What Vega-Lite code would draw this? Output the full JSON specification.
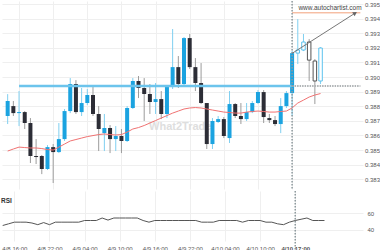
{
  "$schema": "https://vega.github.io/schema/vega-lite/v6.json",
  "padding": 0,
  "background": "white",
  "spacing": 0,
  "config": {
    "view": {"stroke": null},
    "font": "Liberation Sans",
    "axis": {"labelFont": "Liberation Sans", "labelColor": "#555555", "gridColor": "#efefef", "domain": false, "ticks": false, "labelOverlap": false, "labelSeparation": 0}
  },
  "datasets": {
    "c": [
      {"t": "2024-04-08T14:00:00Z", "o": 0.38733, "h": 0.38883, "l": 0.38678, "c": 0.38836, "ma": 0.38493, "rsi": 45},
      {"t": "2024-04-08T15:00:00Z", "o": 0.38801, "h": 0.38836, "l": 0.38733, "c": 0.38753, "ma": 0.38507, "rsi": 47},
      {"t": "2024-04-08T16:00:00Z", "o": 0.38753, "h": 0.38904, "l": 0.38664, "c": 0.3876, "ma": 0.3852, "rsi": 49},
      {"t": "2024-04-08T17:00:00Z", "o": 0.3876, "h": 0.38767, "l": 0.38644, "c": 0.38685, "ma": 0.38517, "rsi": 49},
      {"t": "2024-04-08T18:00:00Z", "o": 0.38685, "h": 0.38719, "l": 0.38411, "c": 0.38459, "ma": 0.38514, "rsi": 49},
      {"t": "2024-04-08T19:00:00Z", "o": 0.38459, "h": 0.38575, "l": 0.38404, "c": 0.38452, "ma": 0.38514, "rsi": 48},
      {"t": "2024-04-08T20:00:00Z", "o": 0.38459, "h": 0.38466, "l": 0.38335, "c": 0.3837, "ma": 0.3851, "rsi": 46},
      {"t": "2024-04-08T21:00:00Z", "o": 0.3837, "h": 0.38534, "l": 0.38363, "c": 0.3852, "ma": 0.38503, "rsi": 48.5},
      {"t": "2024-04-08T22:00:00Z", "o": 0.3852, "h": 0.38541, "l": 0.38274, "c": 0.38486, "ma": 0.385, "rsi": 46},
      {"t": "2024-04-08T23:00:00Z", "o": 0.38486, "h": 0.38685, "l": 0.38479, "c": 0.38575, "ma": 0.3852, "rsi": 49},
      {"t": "2024-04-09T00:00:00Z", "o": 0.38575, "h": 0.38781, "l": 0.38562, "c": 0.38767, "ma": 0.38541, "rsi": 49},
      {"t": "2024-04-09T01:00:00Z", "o": 0.38767, "h": 0.38993, "l": 0.38753, "c": 0.38952, "ma": 0.38562, "rsi": 49},
      {"t": "2024-04-09T02:00:00Z", "o": 0.38952, "h": 0.38979, "l": 0.38747, "c": 0.3876, "ma": 0.38572, "rsi": 49},
      {"t": "2024-04-09T03:00:00Z", "o": 0.3876, "h": 0.38925, "l": 0.38733, "c": 0.38822, "ma": 0.38582, "rsi": 49},
      {"t": "2024-04-09T04:00:00Z", "o": 0.38822, "h": 0.38918, "l": 0.38808, "c": 0.38877, "ma": 0.38592, "rsi": 51},
      {"t": "2024-04-09T05:00:00Z", "o": 0.38877, "h": 0.38938, "l": 0.38733, "c": 0.38747, "ma": 0.38599, "rsi": 51},
      {"t": "2024-04-09T06:00:00Z", "o": 0.38747, "h": 0.38801, "l": 0.38493, "c": 0.38644, "ma": 0.38606, "rsi": 51},
      {"t": "2024-04-09T07:00:00Z", "o": 0.38616, "h": 0.38747, "l": 0.38493, "c": 0.38651, "ma": 0.3861, "rsi": 54},
      {"t": "2024-04-09T08:00:00Z", "o": 0.38651, "h": 0.38671, "l": 0.38479, "c": 0.38575, "ma": 0.38606, "rsi": 51.5},
      {"t": "2024-04-09T09:00:00Z", "o": 0.38575, "h": 0.38664, "l": 0.38493, "c": 0.38596, "ma": 0.38603, "rsi": 54},
      {"t": "2024-04-09T10:00:00Z", "o": 0.38596, "h": 0.38644, "l": 0.38479, "c": 0.38562, "ma": 0.38606, "rsi": 54},
      {"t": "2024-04-09T11:00:00Z", "o": 0.38562, "h": 0.38801, "l": 0.38555, "c": 0.38788, "ma": 0.38623, "rsi": 54},
      {"t": "2024-04-09T12:00:00Z", "o": 0.38788, "h": 0.38993, "l": 0.38781, "c": 0.38973, "ma": 0.38644, "rsi": 54},
      {"t": "2024-04-09T13:00:00Z", "o": 0.38973, "h": 0.39007, "l": 0.38856, "c": 0.38925, "ma": 0.38654, "rsi": 54},
      {"t": "2024-04-09T14:00:00Z", "o": 0.38925, "h": 0.38993, "l": 0.38699, "c": 0.38884, "ma": 0.38668, "rsi": 51},
      {"t": "2024-04-09T15:00:00Z", "o": 0.38884, "h": 0.38952, "l": 0.38747, "c": 0.38829, "ma": 0.38685, "rsi": 49},
      {"t": "2024-04-09T16:00:00Z", "o": 0.38829, "h": 0.38959, "l": 0.38747, "c": 0.38849, "ma": 0.38702, "rsi": 51},
      {"t": "2024-04-09T17:00:00Z", "o": 0.38849, "h": 0.38904, "l": 0.38712, "c": 0.38747, "ma": 0.38719, "rsi": 51},
      {"t": "2024-04-09T18:00:00Z", "o": 0.38747, "h": 0.38938, "l": 0.38719, "c": 0.38932, "ma": 0.38736, "rsi": 51},
      {"t": "2024-04-09T19:00:00Z", "o": 0.38932, "h": 0.39329, "l": 0.38918, "c": 0.39068, "ma": 0.38753, "rsi": 51},
      {"t": "2024-04-09T20:00:00Z", "o": 0.39068, "h": 0.39144, "l": 0.38925, "c": 0.38952, "ma": 0.38767, "rsi": 51},
      {"t": "2024-04-09T21:00:00Z", "o": 0.38952, "h": 0.39274, "l": 0.38945, "c": 0.39267, "ma": 0.38781, "rsi": 51},
      {"t": "2024-04-09T22:00:00Z", "o": 0.39267, "h": 0.39295, "l": 0.39055, "c": 0.39068, "ma": 0.38788, "rsi": 51},
      {"t": "2024-04-09T23:00:00Z", "o": 0.39068, "h": 0.3913, "l": 0.38904, "c": 0.38959, "ma": 0.38791, "rsi": 51},
      {"t": "2024-04-10T00:00:00Z", "o": 0.38959, "h": 0.39096, "l": 0.38815, "c": 0.38822, "ma": 0.38788, "rsi": 49},
      {"t": "2024-04-10T01:00:00Z", "o": 0.38822, "h": 0.38822, "l": 0.38507, "c": 0.38541, "ma": 0.38781, "rsi": 49},
      {"t": "2024-04-10T02:00:00Z", "o": 0.38541, "h": 0.38719, "l": 0.38507, "c": 0.38699, "ma": 0.38774, "rsi": 49},
      {"t": "2024-04-10T03:00:00Z", "o": 0.38692, "h": 0.38733, "l": 0.38685, "c": 0.38712, "ma": 0.38767, "rsi": 51},
      {"t": "2024-04-10T04:00:00Z", "o": 0.38712, "h": 0.38726, "l": 0.38582, "c": 0.38596, "ma": 0.3876, "rsi": 51},
      {"t": "2024-04-10T05:00:00Z", "o": 0.38582, "h": 0.38904, "l": 0.38548, "c": 0.38815, "ma": 0.38757, "rsi": 51},
      {"t": "2024-04-10T06:00:00Z", "o": 0.38815, "h": 0.38822, "l": 0.38719, "c": 0.38733, "ma": 0.38753, "rsi": 51},
      {"t": "2024-04-10T07:00:00Z", "o": 0.38733, "h": 0.38822, "l": 0.38678, "c": 0.38712, "ma": 0.38753, "rsi": 49},
      {"t": "2024-04-10T08:00:00Z", "o": 0.38712, "h": 0.38822, "l": 0.38699, "c": 0.3876, "ma": 0.3876, "rsi": 51},
      {"t": "2024-04-10T09:00:00Z", "o": 0.3876, "h": 0.38836, "l": 0.38753, "c": 0.38822, "ma": 0.38764, "rsi": 51},
      {"t": "2024-04-10T10:00:00Z", "o": 0.38822, "h": 0.38911, "l": 0.38815, "c": 0.38897, "ma": 0.38767, "rsi": 51},
      {"t": "2024-04-10T11:00:00Z", "o": 0.38897, "h": 0.38911, "l": 0.38685, "c": 0.38726, "ma": 0.38764, "rsi": 49},
      {"t": "2024-04-10T12:00:00Z", "o": 0.38719, "h": 0.38747, "l": 0.38685, "c": 0.38705, "ma": 0.3876, "rsi": 49},
      {"t": "2024-04-10T13:00:00Z", "o": 0.38705, "h": 0.38733, "l": 0.38664, "c": 0.38678, "ma": 0.3876, "rsi": 47},
      {"t": "2024-04-10T14:00:00Z", "o": 0.38678, "h": 0.38856, "l": 0.38616, "c": 0.38801, "ma": 0.38764, "rsi": 46},
      {"t": "2024-04-10T15:00:00Z", "o": 0.38801, "h": 0.38904, "l": 0.38788, "c": 0.3889, "ma": 0.38767, "rsi": 49},
      {"t": "2024-04-10T16:00:00Z", "o": 0.3889, "h": 0.39178, "l": 0.38733, "c": 0.39164, "ma": 0.38788, "rsi": 51},
      {"t": "2024-04-10T17:00:00Z", "o": 0.39164, "h": 0.39397, "l": 0.39089, "c": 0.39185, "ma": 0.38822, "rsi": 52.5},
      {"t": "2024-04-10T18:00:00Z", "o": 0.39185, "h": 0.39295, "l": 0.39178, "c": 0.3924, "ma": 0.38842, "rsi": 54},
      {"t": "2024-04-10T19:00:00Z", "o": 0.3924, "h": 0.3926, "l": 0.38973, "c": 0.39116, "ma": 0.38863, "rsi": 51},
      {"t": "2024-04-10T20:00:00Z", "o": 0.3911, "h": 0.39123, "l": 0.38815, "c": 0.38973, "ma": 0.38877, "rsi": 51},
      {"t": "2024-04-10T21:00:00Z", "o": 0.38973, "h": 0.39205, "l": 0.38952, "c": 0.39199, "ma": 0.38887, "rsi": 51}
    ],
    "support": [{"t": "2024-04-08T16:00:00Z", "t2": "2024-04-10T16:00:00Z", "p": 0.38938}],
    "supportAfter": [{"t": "2024-04-10T16:00:00Z", "t2": "2024-04-11T04:00:00Z", "p": 0.38938}],
    "target": [{"t": "2024-04-10T16:00:00Z", "t2": "2024-04-11T04:00:00Z", "p": 0.3944}],
    "arrow": [{"t": "2024-04-10T16:00:00Z", "p": 0.39162, "t2": "2024-04-11T03:05:00Z", "p2": 0.39438}],
    "marker": [{"t": "2024-04-10T16:00:00Z"}],
    "site": [{"t": "2024-04-10T22:40:00Z", "p": 0.39473, "label": "www.autochartist.com"}],
    "wm": [{"t": "2024-04-09T20:20:00Z", "p": 0.38657, "label": "What2Trade"}],
    "rsiLabel": [{"t": "2024-04-08T13:53:00Z", "rsi": 74.5, "label": "RSI"}]
  },
  "vconcat": [
    {
      "width": 361,
      "height": 188,
      "layer": [
        {
          "data": {"name": "c", "format": {"parse": {"t": "date"}}},
          "mark": {"type": "rule", "strokeWidth": 1},
          "encoding": {
            "x": {"field": "t", "type": "temporal", "scale": {"type": "utc", "domain": [{"year": 2024, "month": 4, "date": 8, "hours": 13, "minutes": 53, "utc": true}, {"year": 2024, "month": 4, "date": 11, "hours": 3, "minutes": 35, "utc": true}]}, "axis": {"values": [{"year": 2024, "month": 4, "date": 8, "hours": 16, "utc": true}, {"year": 2024, "month": 4, "date": 8, "hours": 22, "utc": true}, {"year": 2024, "month": 4, "date": 9, "hours": 4, "utc": true}, {"year": 2024, "month": 4, "date": 9, "hours": 10, "utc": true}, {"year": 2024, "month": 4, "date": 9, "hours": 16, "utc": true}, {"year": 2024, "month": 4, "date": 9, "hours": 22, "utc": true}, {"year": 2024, "month": 4, "date": 10, "hours": 4, "utc": true}, {"year": 2024, "month": 4, "date": 10, "hours": 10, "utc": true}, {"year": 2024, "month": 4, "date": 10, "hours": 16, "utc": true}], "tickCount": 20, "labels": false, "ticks": false, "domain": false, "grid": true, "gridColor": "#efefef", "title": null, "minExtent": 0, "maxExtent": 0}},
            "y": {"field": "l", "type": "quantitative", "scale": {"domain": [0.38233, 0.39521], "zero": false, "nice": false}, "axis": {"orient": "right", "values": [0.383, 0.384, 0.385, 0.386, 0.387, 0.388, 0.389, 0.39, 0.391, 0.392, 0.393, 0.394, 0.395], "tickCount": 20, "format": ".3f", "grid": true, "gridColor": "#efefef", "domain": false, "ticks": false, "labelFontSize": 6, "labelPadding": 1.5, "labelOverlap": false, "labelSeparation": 0, "title": null}},
            "y2": {"field": "h"},
            "color": {"condition": {"test": "datum.c >= datum.o", "value": "#7fcff0"}, "value": "#9c9c9c"}
          }
        },
        {
          "data": {"name": "wm", "format": {"parse": {"t": "date"}}},
          "mark": {"type": "text", "fontSize": 11, "fontWeight": "bold", "color": "#dedede", "align": "center", "baseline": "middle"},
          "encoding": {
            "x": {"field": "t", "type": "temporal", "scale": {"type": "utc", "domain": [{"year": 2024, "month": 4, "date": 8, "hours": 13, "minutes": 53, "utc": true}, {"year": 2024, "month": 4, "date": 11, "hours": 3, "minutes": 35, "utc": true}]}},
            "y": {"field": "p", "type": "quantitative", "scale": {"domain": [0.38233, 0.39521], "zero": false, "nice": false}},
            "text": {"field": "label"}
          }
        },
        {
          "data": {"name": "c", "format": {"parse": {"t": "date"}}},
          "transform": [{"filter": "time(datum.t) <= utc(2024,3,10,16)"}],
          "mark": {"type": "bar", "size": 4},
          "encoding": {
            "x": {"field": "t", "type": "temporal", "scale": {"type": "utc", "domain": [{"year": 2024, "month": 4, "date": 8, "hours": 13, "minutes": 53, "utc": true}, {"year": 2024, "month": 4, "date": 11, "hours": 3, "minutes": 35, "utc": true}]}},
            "y": {"field": "o", "type": "quantitative", "scale": {"domain": [0.38233, 0.39521], "zero": false, "nice": false}},
            "y2": {"field": "c"},
            "color": {"condition": {"test": "datum.c >= datum.o", "value": "#1ba3e0"}, "value": "#2c2d36"}
          }
        },
        {
          "data": {"name": "c", "format": {"parse": {"t": "date"}}},
          "transform": [{"filter": "time(datum.t) > utc(2024,3,10,16)"}],
          "mark": {"type": "bar", "size": 3.5, "fill": "white", "strokeWidth": 1},
          "encoding": {
            "x": {"field": "t", "type": "temporal", "scale": {"type": "utc", "domain": [{"year": 2024, "month": 4, "date": 8, "hours": 13, "minutes": 53, "utc": true}, {"year": 2024, "month": 4, "date": 11, "hours": 3, "minutes": 35, "utc": true}]}},
            "y": {"field": "o", "type": "quantitative", "scale": {"domain": [0.38233, 0.39521], "zero": false, "nice": false}},
            "y2": {"field": "c"},
            "stroke": {"condition": {"test": "datum.c >= datum.o", "value": "#5cc2ee"}, "value": "#555555"}
          }
        },
        {
          "data": {"name": "c", "format": {"parse": {"t": "date"}}},
          "mark": {"type": "line", "color": "#f07272", "strokeWidth": 1},
          "encoding": {
            "x": {"field": "t", "type": "temporal", "scale": {"type": "utc", "domain": [{"year": 2024, "month": 4, "date": 8, "hours": 13, "minutes": 53, "utc": true}, {"year": 2024, "month": 4, "date": 11, "hours": 3, "minutes": 35, "utc": true}]}},
            "y": {"field": "ma", "type": "quantitative", "scale": {"domain": [0.38233, 0.39521], "zero": false, "nice": false}}
          }
        },
        {
          "data": {"name": "support", "format": {"parse": {"t": "date", "t2": "date"}}},
          "mark": {"type": "rule", "color": "#6cc4ec", "strokeWidth": 2.5},
          "encoding": {
            "x": {"field": "t", "type": "temporal", "scale": {"type": "utc", "domain": [{"year": 2024, "month": 4, "date": 8, "hours": 13, "minutes": 53, "utc": true}, {"year": 2024, "month": 4, "date": 11, "hours": 3, "minutes": 35, "utc": true}]}},
            "x2": {"field": "t2"},
            "y": {"field": "p", "type": "quantitative", "scale": {"domain": [0.38233, 0.39521], "zero": false, "nice": false}}
          }
        },
        {
          "data": {"name": "supportAfter", "format": {"parse": {"t": "date", "t2": "date"}}},
          "mark": {"type": "rule", "color": "#b0b4b6", "strokeWidth": 2, "strokeDash": [1.5, 1], "clip": true},
          "encoding": {
            "x": {"field": "t", "type": "temporal", "scale": {"type": "utc", "domain": [{"year": 2024, "month": 4, "date": 8, "hours": 13, "minutes": 53, "utc": true}, {"year": 2024, "month": 4, "date": 11, "hours": 3, "minutes": 35, "utc": true}]}},
            "x2": {"field": "t2"},
            "y": {"field": "p", "type": "quantitative", "scale": {"domain": [0.38233, 0.39521], "zero": false, "nice": false}}
          }
        },
        {
          "data": {"name": "target", "format": {"parse": {"t": "date", "t2": "date"}}},
          "mark": {"type": "rule", "color": "#f2a07b", "strokeWidth": 1, "clip": true},
          "encoding": {
            "x": {"field": "t", "type": "temporal", "scale": {"type": "utc", "domain": [{"year": 2024, "month": 4, "date": 8, "hours": 13, "minutes": 53, "utc": true}, {"year": 2024, "month": 4, "date": 11, "hours": 3, "minutes": 35, "utc": true}]}},
            "x2": {"field": "t2"},
            "y": {"field": "p", "type": "quantitative", "scale": {"domain": [0.38233, 0.39521], "zero": false, "nice": false}}
          }
        },
        {
          "data": {"name": "marker", "format": {"parse": {"t": "date"}}},
          "mark": {"type": "rule", "color": "#8e9a9e", "strokeWidth": 1.5, "strokeDash": [1.5, 1.5]},
          "encoding": {
            "x": {"field": "t", "type": "temporal", "scale": {"type": "utc", "domain": [{"year": 2024, "month": 4, "date": 8, "hours": 13, "minutes": 53, "utc": true}, {"year": 2024, "month": 4, "date": 11, "hours": 3, "minutes": 35, "utc": true}]}}
          }
        },
        {
          "data": {"name": "arrow", "format": {"parse": {"t": "date", "t2": "date"}}},
          "mark": {"type": "rule", "color": "#777777", "strokeWidth": 1},
          "encoding": {
            "x": {"field": "t", "type": "temporal", "scale": {"type": "utc", "domain": [{"year": 2024, "month": 4, "date": 8, "hours": 13, "minutes": 53, "utc": true}, {"year": 2024, "month": 4, "date": 11, "hours": 3, "minutes": 35, "utc": true}]}},
            "x2": {"field": "t2"},
            "y": {"field": "p", "type": "quantitative", "scale": {"domain": [0.38233, 0.39521], "zero": false, "nice": false}},
            "y2": {"field": "p2"}
          }
        },
        {
          "data": {"name": "arrow", "format": {"parse": {"t": "date", "t2": "date"}}},
          "mark": {"type": "point", "shape": "triangle-up", "angle": 58, "size": 22, "filled": true, "color": "#666666", "opacity": 1},
          "encoding": {
            "x": {"field": "t2", "type": "temporal", "scale": {"type": "utc", "domain": [{"year": 2024, "month": 4, "date": 8, "hours": 13, "minutes": 53, "utc": true}, {"year": 2024, "month": 4, "date": 11, "hours": 3, "minutes": 35, "utc": true}]}},
            "y": {"field": "p2", "type": "quantitative", "scale": {"domain": [0.38233, 0.39521], "zero": false, "nice": false}}
          }
        },
        {
          "data": {"name": "site", "format": {"parse": {"t": "date"}}},
          "mark": {"type": "text", "fontSize": 6.5, "color": "#444444", "align": "center", "baseline": "middle"},
          "encoding": {
            "x": {"field": "t", "type": "temporal", "scale": {"type": "utc", "domain": [{"year": 2024, "month": 4, "date": 8, "hours": 13, "minutes": 53, "utc": true}, {"year": 2024, "month": 4, "date": 11, "hours": 3, "minutes": 35, "utc": true}]}},
            "y": {"field": "p", "type": "quantitative", "scale": {"domain": [0.38233, 0.39521], "zero": false, "nice": false}},
            "text": {"field": "label"}
          }
        }
      ]
    },
    {
      "width": 361,
      "height": 50,
      "layer": [
        {
          "data": {"name": "c", "format": {"parse": {"t": "date"}}},
          "mark": {"type": "line", "color": "#555555", "strokeWidth": 1},
          "encoding": {
            "x": {"field": "t", "type": "temporal", "scale": {"type": "utc", "domain": [{"year": 2024, "month": 4, "date": 8, "hours": 13, "minutes": 53, "utc": true}, {"year": 2024, "month": 4, "date": 11, "hours": 3, "minutes": 35, "utc": true}]}, "axis": {"values": [{"year": 2024, "month": 4, "date": 8, "hours": 16, "utc": true}, {"year": 2024, "month": 4, "date": 8, "hours": 22, "utc": true}, {"year": 2024, "month": 4, "date": 9, "hours": 4, "utc": true}, {"year": 2024, "month": 4, "date": 9, "hours": 10, "utc": true}, {"year": 2024, "month": 4, "date": 9, "hours": 16, "utc": true}, {"year": 2024, "month": 4, "date": 9, "hours": 22, "utc": true}, {"year": 2024, "month": 4, "date": 10, "hours": 4, "utc": true}, {"year": 2024, "month": 4, "date": 10, "hours": 10, "utc": true}, {"year": 2024, "month": 4, "date": 10, "hours": 16, "utc": true}], "tickCount": 20, "labelExpr": "time(datum.value) === utc(2024,3,10,16) ? '4/10 17:00' : utcFormat(datum.value, '%-m/%-d %H:%M')", "labelFontWeight": {"condition": {"test": "time(datum.value) === utc(2024,3,10,16)", "value": "bold"}, "value": "normal"}, "labelFontSize": 6, "labelPadding": 4, "labelFlush": false, "labelOverlap": false, "grid": true, "gridColor": "#efefef", "ticks": false, "domain": false, "title": null}},
            "y": {"field": "rsi", "type": "quantitative", "scale": {"domain": [26.4, 86.4], "zero": false, "nice": false}, "axis": {"orient": "right", "values": [40, 60], "tickCount": 10, "grid": true, "gridColor": "#efefef", "domain": false, "ticks": false, "labelFontSize": 6, "labelPadding": 4, "labelOverlap": false, "title": null}}
          }
        },
        {
          "data": {"name": "marker", "format": {"parse": {"t": "date"}}},
          "mark": {"type": "rule", "color": "#8e9a9e", "strokeWidth": 1.5, "strokeDash": [1.5, 1.5], "clip": false},
          "encoding": {
            "x": {"field": "t", "type": "temporal", "scale": {"type": "utc", "domain": [{"year": 2024, "month": 4, "date": 8, "hours": 13, "minutes": 53, "utc": true}, {"year": 2024, "month": 4, "date": 11, "hours": 3, "minutes": 35, "utc": true}]}},
            "y": {"datum": 86.4, "type": "quantitative", "scale": {"domain": [26.4, 86.4], "zero": false, "nice": false}},
            "y2": {"datum": 12}
          }
        },
        {
          "data": {"name": "rsiLabel", "format": {"parse": {"t": "date"}}},
          "mark": {"type": "text", "fontSize": 6.5, "fontWeight": "bold", "color": "#333333", "align": "left", "baseline": "middle", "dx": -1},
          "encoding": {
            "x": {"field": "t", "type": "temporal", "scale": {"type": "utc", "domain": [{"year": 2024, "month": 4, "date": 8, "hours": 13, "minutes": 53, "utc": true}, {"year": 2024, "month": 4, "date": 11, "hours": 3, "minutes": 35, "utc": true}]}},
            "y": {"field": "rsi", "type": "quantitative", "scale": {"domain": [26.4, 86.4], "zero": false, "nice": false}},
            "text": {"field": "label"}
          }
        }
      ]
    }
  ]
}
